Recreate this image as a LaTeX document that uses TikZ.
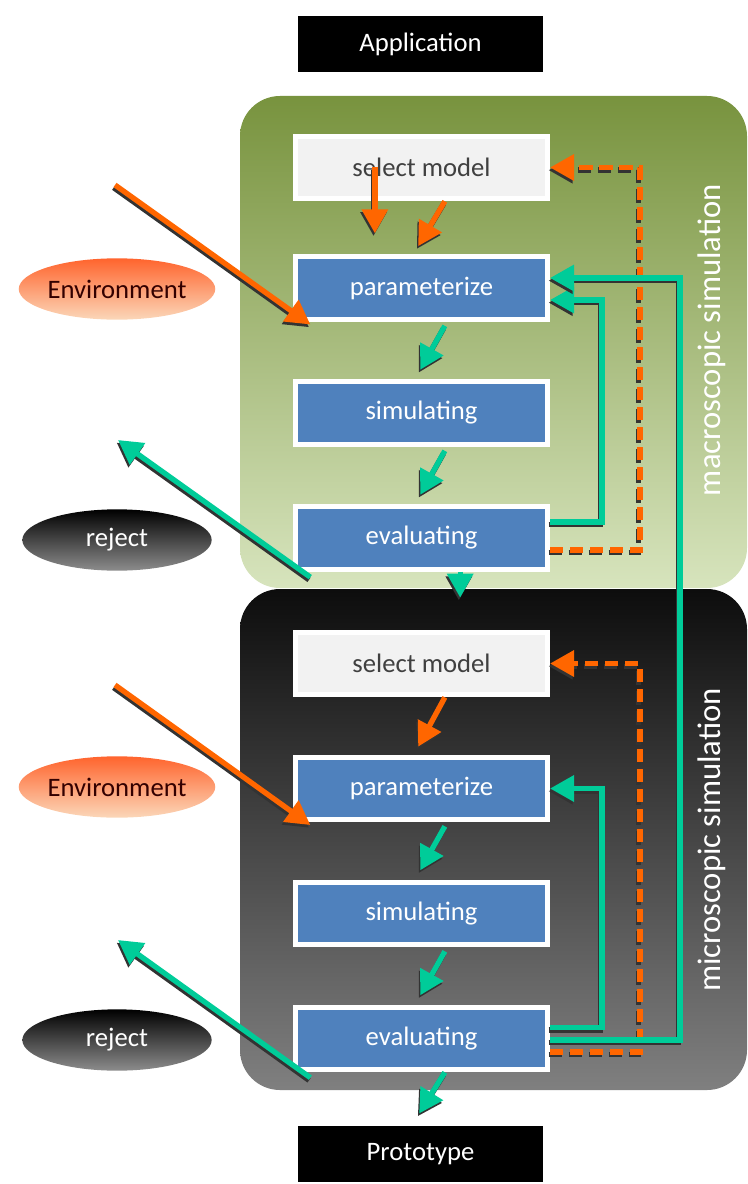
\documentclass[tikz,border=0pt]{standalone}
\usepackage{fontspec}
\setmainfont{Carlito}
\usetikzlibrary{arrows.meta,shapes.geometric,shadows}

\definecolor{boxblue}{RGB}{79,129,189}
\definecolor{selgray}{RGB}{242,242,242}
\definecolor{arrorange}{RGB}{255,102,0}
\definecolor{arrteal}{RGB}{0,204,153}
\definecolor{macrotop}{RGB}{120,147,62}
\definecolor{macrobot}{RGB}{215,228,189}
\definecolor{envtop}{RGB}{255,100,45}
\definecolor{envbot}{RGB}{251,215,185}

\tikzset{
  bigtip/.style={-{Triangle[length=18pt,width=19pt]}},
  stepbox/.style={rectangle,draw=white,line width=3.75pt,fill=boxblue,text=white,
    minimum width=189pt,minimum height=47pt,inner sep=0pt,
    drop shadow={shadow xshift=1pt,shadow yshift=-1pt,opacity=0.45}},
  selbox/.style={stepbox,fill=selgray,text=black!75},
  endbox/.style={stepbox,fill=black,minimum width=187pt,minimum height=46pt,
    drop shadow={shadow xshift=0pt,shadow yshift=-0.5pt,shadow scale=1.025,opacity=0.3}},
  envell/.style={ellipse,minimum width=142pt,minimum height=46pt,inner sep=0pt,
    top color=envtop,bottom color=envbot,text=black!80!red},
  rejell/.style={ellipse,minimum width=142pt,minimum height=46pt,inner sep=0pt,
    top color=black,bottom color=black!45,text=white},
  lnshadow/.style={preaction={draw=black!80,line width=4pt,#1,
    transform canvas={shift={(-1pt,-2pt)}}}},
  orarrow/.style={lnshadow=bigtip,draw=arrorange,line width=4pt,bigtip},
  tearrow/.style={lnshadow=bigtip,draw=arrteal,line width=4pt,bigtip},
  ordash/.style={lnshadow={bigtip,dash pattern=on 10pt off 5pt},
    draw=arrorange,line width=4pt,bigtip,dash pattern=on 10pt off 5pt},
  lvlabel/.style={rotate=90,text=white,font=\fontsize{24.5}{28}\selectfont},
}

\begin{document}
\begin{tikzpicture}[x=0.75pt,y=-0.75pt,font=\fontsize{20}{24}\selectfont]
\useasboundingbox (0,0) rectangle (747,1184);

% level panels
\shade[top color=macrotop,bottom color=macrobot,rounded corners=30] (240,96) rectangle (747,588);
\shade[top color=black!95,bottom color=black!50,rounded corners=30] (240,589) rectangle (747,1090);
\node[lvlabel] (macro) at (712,340) {macroscopic simulation};
\node[lvlabel] (micro) at (712,840) {microscopic simulation};

% boxes
\node[endbox] (app) at (420.5,44) {Application};
\node[selbox] (sel1) at (421.5,167.5) {select model};
\node[stepbox] (par1) at (421.5,288) {parameterize};
\node[stepbox] (sim1) at (421.5,413) {simulating};
\node[stepbox] (eva1) at (421.5,538) {evaluating};
\node[selbox] (sel2) at (421.5,663.5) {select model};
\node[stepbox] (par2) at (421.5,788.5) {parameterize};
\node[stepbox] (sim2) at (421.5,913.5) {simulating};
\node[stepbox] (eva2) at (421.5,1038.5) {evaluating};
\node[endbox] (proto) at (420.5,1154) {Prototype};

% left side
\node[envell] (env1) at (117,289) {Environment};
\node[rejell] (rej1) at (117,540) {reject};
\node[envell] (env2) at (117,787) {Environment};
\node[rejell] (rej2) at (117,1040) {reject};
\coordinate (envin1) at (115,185);
\coordinate (envin2) at (115,685);
\coordinate (rejout1) at (118,440);
\coordinate (rejout2) at (118,940);

% macroscopic arrows
\draw[orarrow] (envin1) -- ([xshift=13pt,yshift=-2pt]par1.south west);
\draw[orarrow] ([xshift=-35pt]sel1.center) -- ([xshift=-35pt,yshift=-24pt]sel1.south);
\draw[orarrow] ([xshift=17.5pt]sel1.south) -- ([xshift=-2.5pt,yshift=6pt]par1.north);
\draw[tearrow] ([xshift=17.5pt,yshift=-3pt]par1.south) -- ([xshift=-1pt,yshift=7pt]sim1.north);
\draw[tearrow] ([xshift=17.5pt,yshift=-3pt]sim1.south) -- ([xshift=-1pt,yshift=7pt]eva1.north);
\draw[tearrow] ([xshift=29pt]eva1.south) -- ([xshift=29pt,yshift=24pt]sel2.north);
\draw[tearrow] ([xshift=13pt,yshift=-4pt]eva1.south west) -- (rejout1);
\draw[tearrow] ([yshift=12pt]eva1.east) -- ++(52,0) |- ([yshift=-9pt]par1.east);
\draw[ordash] ([yshift=-9pt]eva1.east) -- ++(90,0) |- (sel1.east);

% microscopic arrows
\draw[orarrow] (envin2) -- ([xshift=13pt,yshift=-2pt]par2.south west);
\draw[orarrow] ([xshift=17.5pt]sel2.south) -- ([xshift=-2.5pt,yshift=6pt]par2.north);
\draw[tearrow] ([xshift=17.5pt,yshift=-3pt]par2.south) -- ([xshift=-1pt,yshift=7pt]sim2.north);
\draw[tearrow] ([xshift=17.5pt,yshift=-3pt]sim2.south) -- ([xshift=-1pt,yshift=7pt]eva2.north);
\draw[tearrow] ([xshift=17.5pt]eva2.south) -- ([xshift=-1pt,yshift=5.5pt]proto.north);
\draw[tearrow] ([xshift=13pt,yshift=-4pt]eva2.south west) -- (rejout2);
\draw[tearrow] ([yshift=8.5pt]eva2.east) -- ++(52,0) |- (par2.east);
\draw[ordash] ([yshift=-10pt]eva2.east) -- ++(90,0) |- (sel2.east);
\draw[tearrow] ([yshift=-1pt]eva2.east) -- ++(130,0) |- ([yshift=7.5pt]par1.east);
\end{tikzpicture}
\end{document}
